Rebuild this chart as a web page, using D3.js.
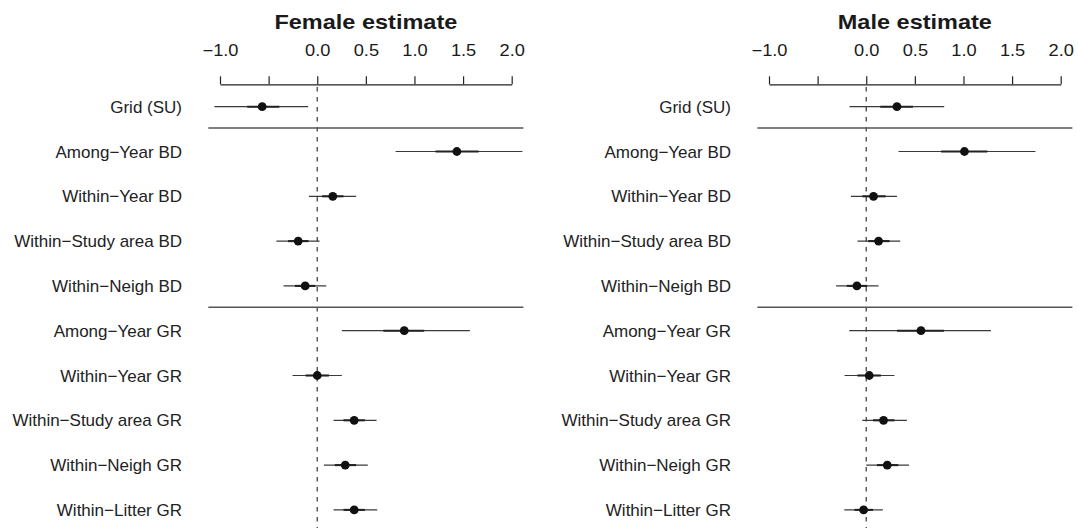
<!DOCTYPE html>
<html>
<head>
<meta charset="utf-8">
<script src="https://cdn.jsdelivr.net/npm/d3@7"></script>
<style>
  body { margin: 0; background: #fff; }
  svg { display: block; font-family: "Liberation Sans", Arial, sans-serif; }
</style>
</head>
<body>
<div class="chart"></div>
<script>
// row labels, top to bottom
var terms = ["Grid (SU)", "Among\u2212Year BD", "Within\u2212Year BD", "Within\u2212Study area BD",
  "Within\u2212Neigh BD", "Among\u2212Year GR", "Within\u2212Year GR", "Within\u2212Study area GR",
  "Within\u2212Neigh GR", "Within\u2212Litter GR"];

// female: estimate, 95% interval, 50% interval
var femaleEst  = [-0.566, 1.436, 0.16, -0.196, -0.124, 0.895, 0.0, 0.38, 0.288, 0.38];
var femaleLo95 = [-1.057, 0.806, -0.086, -0.42, -0.347, 0.253, -0.254, 0.168, 0.068, 0.168];
var femaleHi95 = [-0.093, 2.11, 0.40, 0.024, 0.093, 1.57, 0.253, 0.61, 0.52, 0.617];
var femaleLo50 = [-0.72, 1.217, 0.05, -0.30, -0.23, 0.68, -0.12, 0.27, 0.18, 0.27];
var femaleHi50 = [-0.39, 1.66, 0.27, -0.09, -0.02, 1.10, 0.12, 0.49, 0.40, 0.49];

// male
var maleEst  = [0.316, 1.01, 0.075, 0.127, -0.096, 0.563, 0.031, 0.178, 0.216, -0.027];
var maleLo95 = [-0.172, 0.332, -0.157, -0.09, -0.31, -0.175, -0.223, -0.041, 0.0, -0.226];
var maleHi95 = [0.802, 1.74, 0.316, 0.35, 0.127, 1.282, 0.29, 0.418, 0.44, 0.171];
var maleLo50 = [0.144, 0.77, -0.04, 0.02, -0.2, 0.316, -0.09, 0.07, 0.11, -0.12];
var maleHi50 = [0.48, 1.245, 0.2, 0.24, 0.01, 0.80, 0.15, 0.29, 0.33, 0.07];

var tickValues = [-1.0, -0.5, 0.0, 0.5, 1.0, 1.5, 2.0];
var tickLabels = ["\u22121.0", "", "0.0", "0.5", "1.0", "1.5", "2.0"];
var breaksAfter = [0, 4]; // horizontal rules below these rows

var width = 1078, height = 528;

var svg = d3.select("div.chart").append("svg")
  .attr("width", width)
  .attr("height", height);

var y = d3.scalePoint().domain(terms).range([106.7, 509.9]);

function drawPanel(title, x0, est, lo95, hi95, lo50, hi50) {
  var x = d3.scaleLinear().domain([-1, 2]).range([x0, x0 + 291.7]);
  var g = svg.append("g");

  var rows = terms.map(function(t, i) {
    return { term: t, est: est[i], lo95: lo95[i], hi95: hi95[i], lo50: lo50[i], hi50: hi50[i] };
  });

  // title
  g.append("text")
    .attr("transform", "translate(" + x(0.5) + ",28.5) scale(1.12,1)")
    .attr("text-anchor", "middle")
    .attr("font-size", 21)
    .attr("font-weight", "bold")
    .attr("fill", "#1a1a1a")
    .text(title);

  // top axis
  var axis = d3.axisTop(x)
    .tickValues(tickValues)
    .tickFormat(function(d, i) { return tickLabels[i]; })
    .tickSize(8)
    .tickSizeOuter(0)
    .tickPadding(28);

  var ax = g.append("g")
    .attr("transform", "translate(0,84.3)")
    .call(axis);
  ax.select(".domain").attr("stroke", "#222").attr("stroke-width", 1.2);
  ax.selectAll(".tick line").attr("stroke", "#222").attr("stroke-width", 1.2);
  ax.selectAll(".tick text")
    .attr("font-size", 16)
    .attr("fill", "#1a1a1a")
    .attr("font-family", "Liberation Sans, Arial, sans-serif")
    .attr("y", null)
    .attr("dy", null)
    .attr("transform", "translate(0,-28) scale(1.14,1)");

  // zero reference
  g.append("line")
    .attr("x1", x(0)).attr("x2", x(0))
    .attr("y1", 87).attr("y2", height)
    .attr("stroke", "#444")
    .attr("stroke-width", 1.3)
    .attr("stroke-dasharray", "4.5,5.5");

  // section rules
  g.selectAll("line.rule")
    .data(breaksAfter)
    .enter().append("line")
    .attr("class", "rule")
    .attr("x1", x(-1.12)).attr("x2", x(2.12))
    .attr("y1", function(i) { return (y(terms[i]) + y(terms[i + 1])) / 2 - 1; })
    .attr("y2", function(i) { return (y(terms[i]) + y(terms[i + 1])) / 2 - 1; })
    .attr("stroke", "#555")
    .attr("stroke-width", 1.5);

  // row labels
  g.selectAll("text.lab")
    .data(rows)
    .enter().append("text")
    .attr("class", "lab")
    .attr("x", x0 - 38)
    .attr("y", function(d) { return y(d.term); })
    .attr("dy", "0.36em")
    .attr("text-anchor", "end")
    .attr("font-size", 17)
    .attr("fill", "#222")
    .text(function(d) { return d.term; });

  // 95% intervals
  g.selectAll("line.ci95")
    .data(rows)
    .enter().append("line")
    .attr("class", "ci95")
    .attr("x1", function(d) { return x(d.lo95); })
    .attr("x2", function(d) { return x(d.hi95); })
    .attr("y1", function(d) { return y(d.term); })
    .attr("y2", function(d) { return y(d.term); })
    .attr("stroke", "#3a3a3a")
    .attr("stroke-width", 1.2);

  // 50% intervals
  g.selectAll("line.ci50")
    .data(rows)
    .enter().append("line")
    .attr("class", "ci50")
    .attr("x1", function(d) { return x(d.lo50); })
    .attr("x2", function(d) { return x(d.hi50); })
    .attr("y1", function(d) { return y(d.term); })
    .attr("y2", function(d) { return y(d.term); })
    .attr("stroke", "#222")
    .attr("stroke-width", 2.1);

  // point estimates
  g.selectAll("circle.est")
    .data(rows)
    .enter().append("circle")
    .attr("class", "est")
    .attr("cx", function(d) { return x(d.est); })
    .attr("cy", function(d) { return y(d.term); })
    .attr("r", 4.4)
    .attr("fill", "#111");
}

drawPanel("Female estimate", 220, femaleEst, femaleLo95, femaleHi95, femaleLo50, femaleHi50);
drawPanel("Male estimate", 769, maleEst, maleLo95, maleHi95, maleLo50, maleHi50);
</script>
</body>
</html>
